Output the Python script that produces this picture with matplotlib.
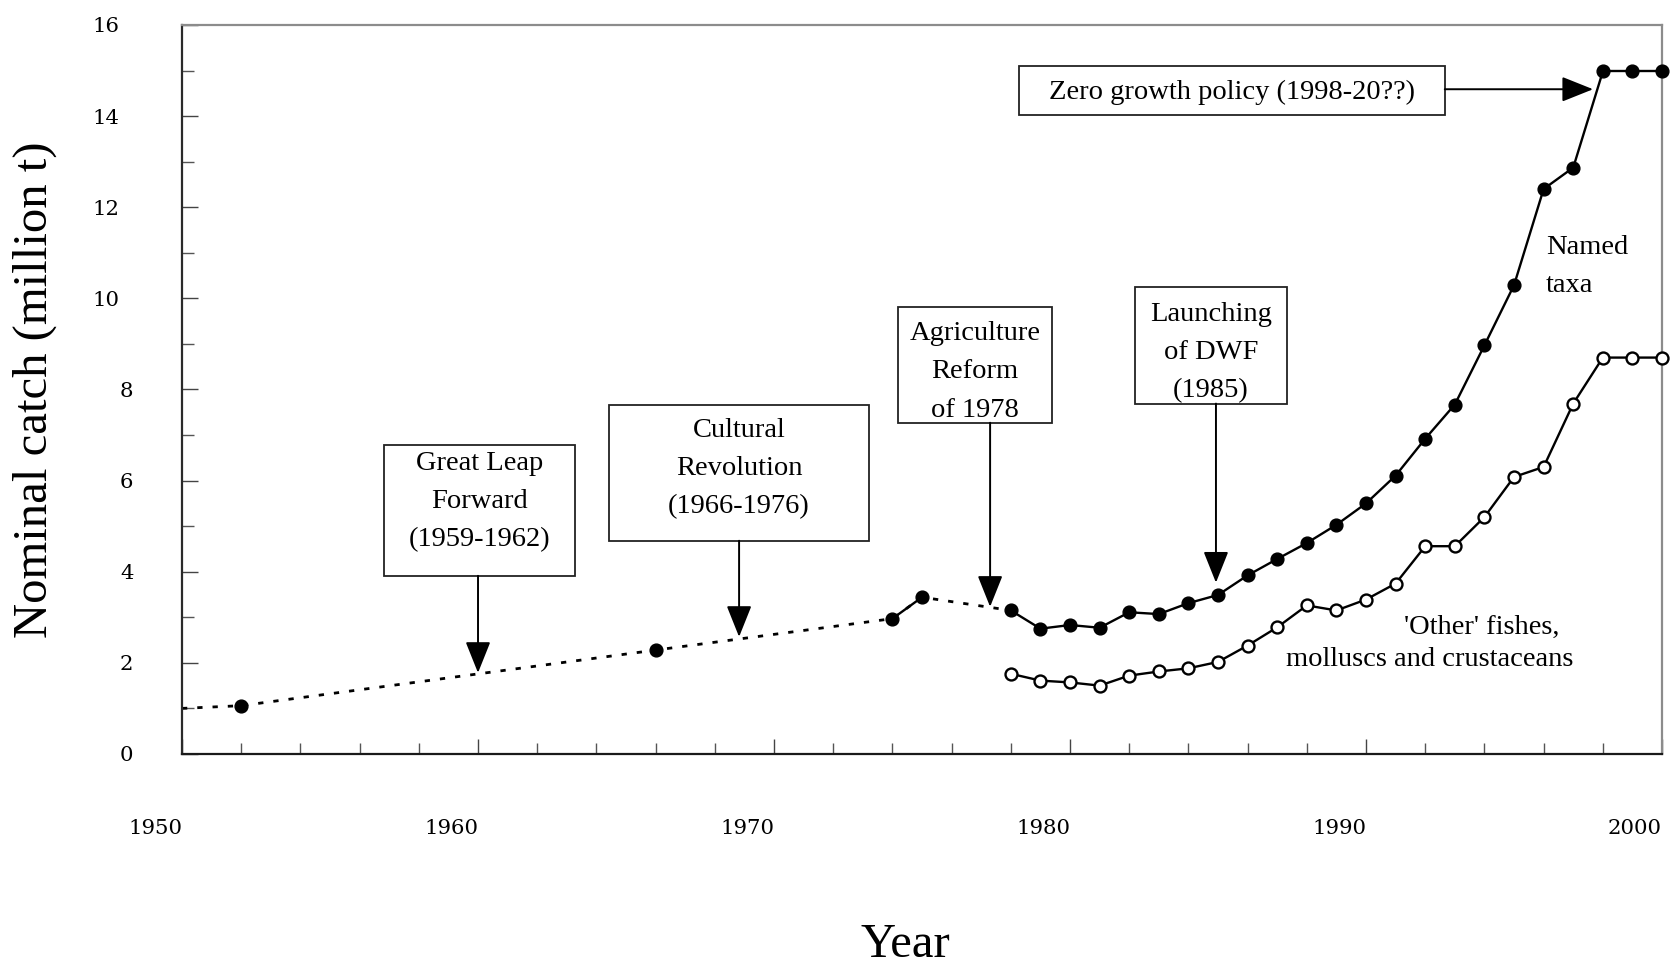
import matplotlib
matplotlib.use("Agg")
import matplotlib.pyplot as plt
import matplotlib.transforms as mtransforms
from matplotlib.patches import Rectangle
from matplotlib.ticker import MultipleLocator

# ---------------- data ----------------
named_years = [1952, 1966, 1974, 1975] + list(range(1978, 2001))
named_catch = [1.06, 2.28, 2.97, 3.44,
               3.15, 2.75, 2.83, 2.77, 3.11, 3.07, 3.31, 3.49, 3.92, 4.28,
               4.63, 5.03, 5.50, 6.11, 6.92, 7.67, 8.97, 10.29, 12.40, 12.87,
               14.98, 14.98, 14.98]
trend_start_year = 1950
trend_start_catch = 1.00

other_years = list(range(1978, 2001))
other_catch = [1.76, 1.61, 1.57, 1.50, 1.72, 1.81, 1.88, 2.02, 2.38, 2.78,
               3.26, 3.15, 3.39, 3.74, 4.56, 4.56, 5.20, 6.08, 6.30, 7.69,
               8.70, 8.70, 8.70]

y_ticks = [0, 2, 4, 6, 8, 10, 12, 14, 16]
x_ticks = [1950, 1960, 1970, 1980, 1990, 2000]
y_tick_labels = [str(v) for v in y_ticks]
x_tick_labels = [str(v) for v in x_ticks]

SERIF = "Liberation Serif"
TICKFONT = "DejaVu Serif"
ANN_FS = 20.5
ANN_LS = 1.70

fig = plt.figure(figsize=(16.79, 9.65), dpi=100)
ax = fig.add_axes([0.1084, 0.2187, 0.8815, 0.7554])
ax.set_xlim(1950, 2000)
ax.set_ylim(0, 16)

# dotted trend through sparse early years
early_x = [trend_start_year] + [y for y in named_years if y <= 1978]
early_y = [trend_start_catch] + [c for y, c in zip(named_years, named_catch) if y <= 1978]
ax.plot(early_x, early_y, color="black", lw=2.0, linestyle=(0, (1.9, 3.6)),
        dash_capstyle="butt", zorder=2)

# solid segments for consecutive years
for i in range(len(named_years) - 1):
    if named_years[i + 1] - named_years[i] == 1:
        ax.plot(named_years[i:i + 2], named_catch[i:i + 2], color="black",
                lw=1.7, solid_capstyle="butt", zorder=3)
ax.plot(named_years, named_catch, "o", color="black", ms=9.2, zorder=4,
        clip_on=False)

ax.plot(other_years, other_catch, "-o", color="black", lw=1.7, ms=8.6,
        mfc="white", mec="black", mew=1.7, zorder=4, clip_on=False)

# ---------------- axes styling ----------------
for side in ("top", "right"):
    ax.spines[side].set_color("#8c8c8c")
    ax.spines[side].set_linewidth(1.6)
ax.spines["left"].set_color("#2a2a2a")
ax.spines["bottom"].set_color("#1a1a1a")
ax.spines["left"].set_linewidth(1.6)
ax.spines["bottom"].set_linewidth(1.6)

ax.set_yticks(y_ticks)
ax.set_yticklabels(y_tick_labels, fontfamily=TICKFONT, fontsize=15.3)
ax.set_xticks(x_ticks)
ax.set_xticklabels(x_tick_labels, fontfamily=TICKFONT, fontsize=15.3, ha="right")
ax.yaxis.set_minor_locator(MultipleLocator(1))
ax.xaxis.set_minor_locator(MultipleLocator(2))
ax.tick_params(axis="y", which="major", direction="in", length=11.5, width=1.0,
               color="#444444", pad=35)
ax.tick_params(axis="y", which="minor", direction="in", length=8.6, width=1.0,
               color="#555555")
ax.tick_params(axis="x", which="major", direction="in", length=10.8, width=1.0,
               color="#444444", pad=47)
ax.tick_params(axis="x", which="minor", direction="in", length=7.9, width=1.0,
               color="#555555")
for lab in ax.get_yticklabels():
    if len(lab.get_text()) > 1:
        lab.set_transform(lab.get_transform() +
                          mtransforms.ScaledTranslation(-0.14, 0, fig.dpi_scale_trans))

ax.set_ylabel("Nominal catch (million t)", fontfamily=SERIF, fontsize=35)
ax.yaxis.label.set_va("baseline")
ax.yaxis.set_label_coords(-0.0912, 0.5)
ax.set_xlabel("Year", fontfamily=SERIF, fontsize=35)
ax.xaxis.label.set_va("baseline")
ax.xaxis.set_label_coords(0.489, -0.2785)

# ---------------- annotations ----------------
def box(x0, x1, y0, y1):
    ax.add_patch(Rectangle((x0, y1), x1 - x0, y0 - y1, fill=False,
                           edgecolor="#222222", lw=1.3, zorder=5))

def arrow(xs, ys, xt, yt):
    ax.annotate("", xy=(xt, yt), xytext=(xs, ys),
                arrowprops=dict(arrowstyle="-|>,head_length=1.95,head_width=0.78",
                                mutation_scale=10, lw=1.4, color="black",
                                shrinkA=0, shrinkB=0), zorder=5)

def label(x, y, s, ha="center", ls=ANN_LS):
    ax.text(x, y, s, ha=ha, va="center", fontfamily=SERIF, fontsize=ANN_FS,
            linespacing=ls, zorder=6)

box(1956.82, 1963.28, 6.79, 3.91)
label(1960.05, 5.54, "Great Leap\nForward\n(1959-1962)")
arrow(1960.0, 3.91, 1960.0, 1.78)

box(1964.43, 1973.21, 7.65, 4.68)
label(1968.82, 6.26, "Cultural\nRevolution\n(1966-1976)")
arrow(1968.82, 4.68, 1968.82, 2.57)

box(1974.19, 1979.39, 9.80, 7.27)
label(1976.79, 8.39, "Agriculture\nReform\nof 1978")
arrow(1977.30, 7.27, 1977.30, 3.23)

box(1982.20, 1987.33, 10.24, 7.69)
label(1984.76, 8.81, "Launching\nof DWF\n(1985)")
arrow(1984.93, 7.69, 1984.93, 3.76)

box(1978.29, 1992.66, 15.09, 14.02)
label(1985.47, 14.53, "Zero growth policy (1998-20??)")
arrow(1992.66, 14.59, 1997.67, 14.59)

label(1996.08, 10.70, "Named\ntaxa", ha="left")
label(1993.92, 2.77, "'Other' fishes,")
label(1992.16, 2.07, "molluscs and crustaceans")

fig.savefig("out.png", dpi=100)
